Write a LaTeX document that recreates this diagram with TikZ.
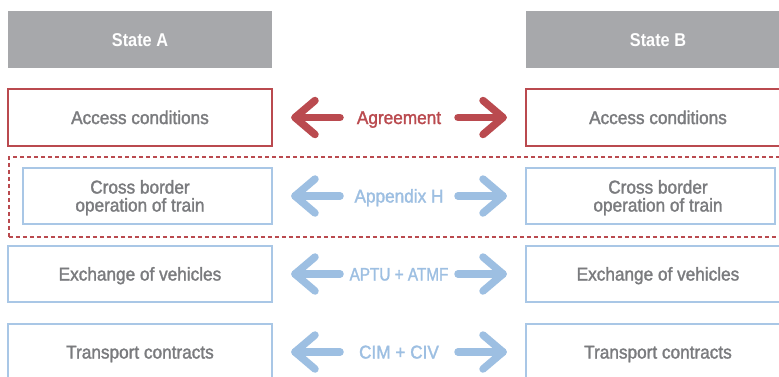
\documentclass[tikz,border=0pt]{standalone}
\usepackage{fontspec}
\setmainfont{Liberation Sans}[FakeStretch=0.93,FakeBold=1.6]
\newfontfamily\boldcond{Liberation Sans Bold}[FakeStretch=0.88]
\newfontfamily\narrowcond{Liberation Sans}[FakeStretch=0.85,FakeBold=1.6]
\definecolor{boxgray}{HTML}{A7A8AB}
\definecolor{txtgray}{HTML}{7A7B7E}
\definecolor{redc}{HTML}{BA4A4F}
\definecolor{bluec}{HTML}{9DBFE2}
\definecolor{blueb}{HTML}{A9C7E6}
\begin{document}
\begin{tikzpicture}[x=1pt,y=-1pt,
  fs/.style={font=\fontsize{18.5}{20}\selectfont},
  statebox/.style={fill=boxgray,draw=none,minimum width=264pt,minimum height=57pt,inner sep=0pt,text=white,font=\boldcond\fontsize{18.5}{20}\selectfont,text height=13pt,text depth=0pt},
  redbox/.style={draw=redc,line width=1.5pt,fill=white,minimum width=264pt,minimum height=57pt,inner sep=0pt,text=txtgray,fs,text height=13pt,text depth=0pt},
  bluebox/.style={draw=blueb,line width=1.5pt,fill=white,minimum width=264pt,minimum height=56pt,inner sep=0pt,text=txtgray,fs,text height=13pt,text depth=0pt},
  plainbox/.style={draw=blueb,line width=1.5pt,fill=white,inner sep=0pt},
  labeltext/.style={fs,inner sep=0pt,text height=13pt,text depth=0pt},
  gtext/.style={text=txtgray,font=\fontsize{18.5}{18}\selectfont,align=center,inner sep=0pt},
  shaft/.style={line width=7.5pt,line cap=round,line join=round}
]
\useasboundingbox (0,0) rectangle (779,376);
\fill[white] (0,0) rectangle (779,376);
% dashed frame
\node[draw=redc,dash pattern=on 4pt off 3pt,line width=1.6pt,minimum width=790pt,minimum height=80pt,inner sep=0pt,anchor=north west] (frame) at (8,156) {};
% state headers
\node[statebox] (sa) at (140,39.5) {State A};
\node[statebox] (sb) at (658,39.5) {State B};
% rows
\node[redbox] (aca) at (140,117.5) {Access conditions};
\node[redbox] (acb) at (658,117.5) {Access conditions};
\node[plainbox,minimum width=249pt,minimum height=56pt] (cba) at (147.5,196) {};
\node[gtext,anchor=base] (cbat) at (140,211.5) {Cross border\\operation of train};
\node[plainbox,minimum width=249pt,minimum height=56pt] (cbb) at (650.5,196) {};
\node[gtext,anchor=base] (cbbt) at (658,211.5) {Cross border\\operation of train};
\node[bluebox] (exa) at (140,274) {Exchange of vehicles};
\node[bluebox] (exb) at (658,274) {Exchange of vehicles};
\node[bluebox] (tca) at (140,352) {Transport contracts};
\node[bluebox] (tcb) at (658,352) {Transport contracts};
% labels
\node[labeltext,text=redc] (l1) at (399,117.5) {Agreement};
\node[labeltext,text=bluec] (l2) at (399,196) {Appendix H};
\node[labeltext,text=bluec,font=\narrowcond\fontsize{18}{20}\selectfont] (l3) at (399,274) {APTU + ATMF};
\node[labeltext,text=bluec] (l4) at (399,352) {CIM + CIV};
% arrows
\foreach \yy/\cc/\nn in {117.5/redc/a,196/bluec/b,274/bluec/c,352/bluec/d}{
  \coordinate (ls\nn) at (340,\yy);
  \coordinate (lt\nn) at (295,\yy);
  \coordinate (rs\nn) at (458,\yy);
  \coordinate (rt\nn) at (503,\yy);
  \draw[shaft,\cc] (ls\nn) -- (lt\nn);
  \draw[shaft,\cc] ([shift={(20,-17)}]lt\nn) -- (lt\nn) -- ([shift={(20,17)}]lt\nn);
  \draw[shaft,\cc] (rs\nn) -- (rt\nn);
  \draw[shaft,\cc] ([shift={(-20,-17)}]rt\nn) -- (rt\nn) -- ([shift={(-20,17)}]rt\nn);
}
\end{tikzpicture}
\end{document}
